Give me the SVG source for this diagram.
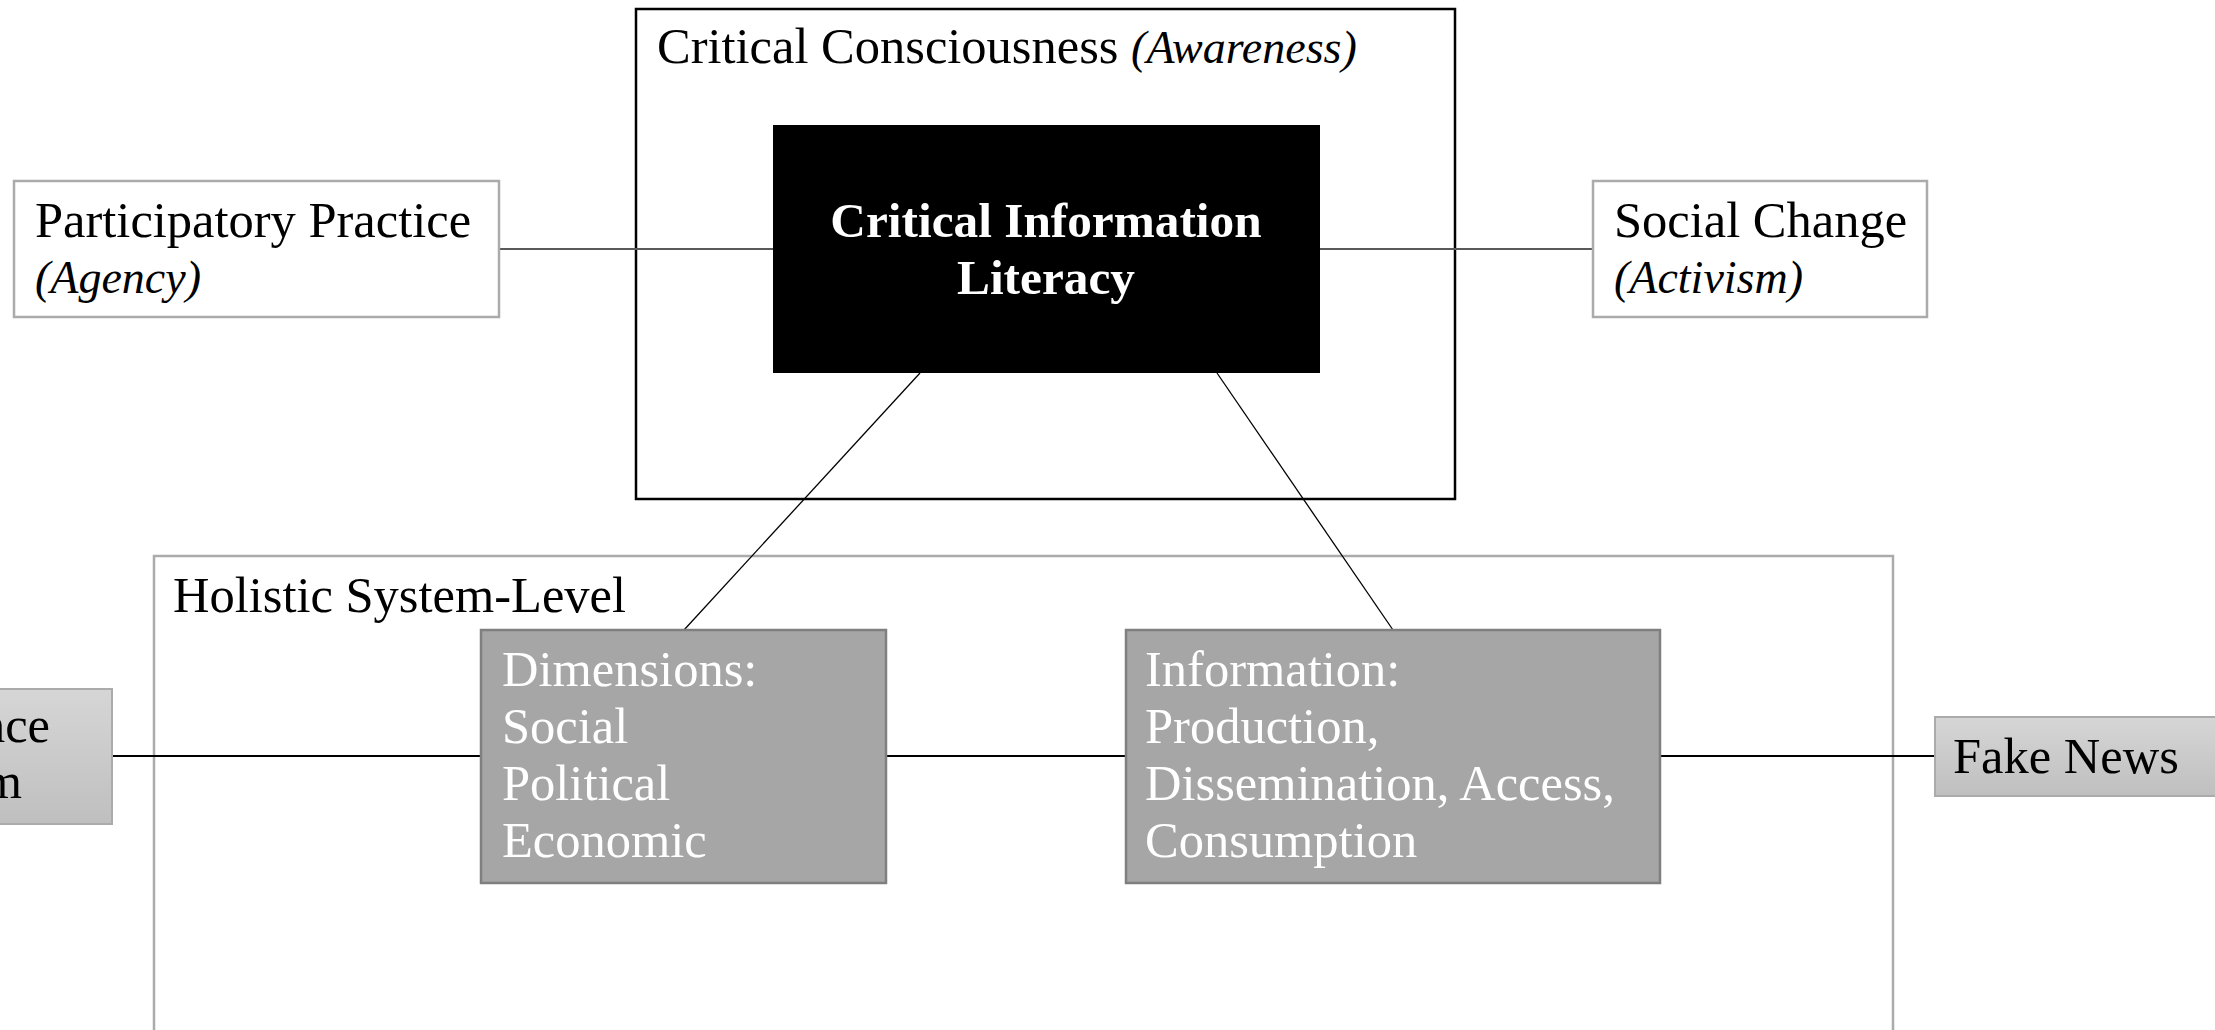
<svg xmlns="http://www.w3.org/2000/svg" width="2215" height="1030" viewBox="0 0 2215 1030">
<style>
text{font-family:"Liberation Serif","Times New Roman",serif;font-size:50.5px;fill:#000}
.it{font-style:italic;font-size:46px}
.w{fill:#fff}
.b{font-weight:bold;font-size:49.3px}
.plain{fill:#fff;stroke:#ababab;stroke-width:2.5}
.dark{fill:#a6a6a6;stroke:#7f7f7f;stroke-width:2.5}
.grad{fill:url(#g);stroke:#ababab;stroke-width:2}
.conn{fill:none}
</style>
<defs>
<linearGradient id="g" x1="0" y1="0" x2="0" y2="1">
<stop offset="0" stop-color="#d6d6d6"/>
<stop offset="1" stop-color="#bfbfbf"/>
</linearGradient>
</defs>
<rect width="2215" height="1030" fill="#fff"/>
<g id="holistic">
<rect x="154" y="556" width="1739" height="500" fill="none" stroke="#ababab" stroke-width="2.5"/>
<text x="173" y="612">Holistic System-Level</text>
</g>
<g id="critical-consciousness">
<rect x="636" y="9" width="819" height="490" fill="none" stroke="#000" stroke-width="2.5"/>
<text x="657" y="63">Critical Consciousness <tspan class="it">(Awareness)</tspan></text>
</g>
<g id="connectors" class="conn">
<line x1="499" y1="249" x2="773" y2="249" stroke="#595959" stroke-width="2"/>
<line x1="1320" y1="249" x2="1593" y2="249" stroke="#595959" stroke-width="2"/>
<line x1="920" y1="373" x2="684" y2="630" stroke="#000" stroke-width="1.3"/>
<line x1="1217" y1="373" x2="1393" y2="630" stroke="#000" stroke-width="1.3"/>
<line x1="112" y1="756" x2="481" y2="756" stroke="#000" stroke-width="1.8"/>
<line x1="886" y1="756" x2="1126" y2="756" stroke="#000" stroke-width="1.8"/>
<line x1="1660" y1="756" x2="1935" y2="756" stroke="#000" stroke-width="1.8"/>
</g>
<g id="cil">
<rect x="773" y="125" width="547" height="248" fill="#000"/>
<text class="w b" x="1046" y="237" text-anchor="middle">Critical Information</text>
<text class="w b" x="1046" y="294" text-anchor="middle">Literacy</text>
</g>
<g id="participatory">
<rect class="plain" x="14" y="181" width="485" height="136"/>
<text x="35" y="237">Participatory Practice</text>
<text class="it" x="35" y="293">(Agency)</text>
</g>
<g id="social-change">
<rect class="plain" x="1593" y="181" width="334" height="136"/>
<text x="1614" y="237">Social Change</text>
<text class="it" x="1614" y="293">(Activism)</text>
</g>
<g id="dimensions">
<rect class="dark" x="481" y="630" width="405" height="253"/>
<text class="w" x="502" y="686">Dimensions:</text>
<text class="w" x="502" y="743">Social</text>
<text class="w" x="502" y="800">Political</text>
<text class="w" x="502" y="857">Economic</text>
</g>
<g id="information">
<rect class="dark" x="1126" y="630" width="534" height="253"/>
<text class="w" x="1145" y="686">Information:</text>
<text class="w" x="1145" y="743">Production,</text>
<text class="w" x="1145" y="800">Dissemination, Access,</text>
<text class="w" x="1145" y="857">Consumption</text>
</g>
<g id="left-node">
<rect class="grad" x="-10" y="689" width="122" height="135"/>
<text x="50" y="742" text-anchor="end">nce</text>
<text x="22" y="798" text-anchor="end">m</text>
</g>
<g id="fake-news">
<rect class="grad" x="1935" y="717" width="300" height="79"/>
<text x="1953" y="773">Fake News</text>
</g>
</svg>
